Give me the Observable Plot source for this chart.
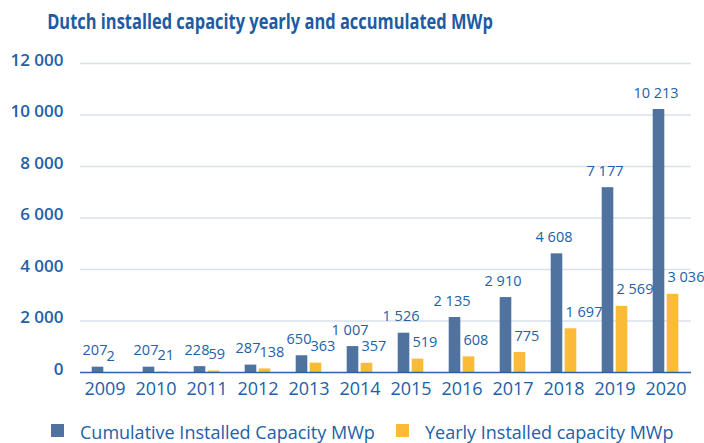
<!DOCTYPE html>
<html><head><meta charset="utf-8">
<script src="https://cdn.jsdelivr.net/npm/d3@7"></script>
<script src="https://cdn.jsdelivr.net/npm/@observablehq/plot@0.6"></script>
<style>
body{margin:0;background:#fff;width:704px;height:443px;overflow:hidden;position:relative;font-family:"Open Sans",sans-serif;color:#2260a8;}
#title{position:absolute;left:-30px;top:8px;width:600px;text-align:center;font-family:"Open Sans",sans-serif;font-weight:bold;font-size:21.5px;line-height:26px;color:#1d5ba3;white-space:nowrap;transform:scaleX(0.765);transform-origin:300px 0;}
#chart{position:absolute;left:0;top:44px;}
.leg{position:absolute;top:420px;font-size:18px;line-height:24px;white-space:nowrap;color:#2260a8;}
.sw{position:absolute;width:13px;height:13px;top:424px;}
</style></head><body>
<div id="title">Dutch installed capacity yearly and accumulated MWp</div>
<div id="chart"></div>
<div class="sw" style="left:51px;background:#50729e"></div>
<div class="leg" style="left:80px">Cumulative Installed Capacity MWp</div>
<div class="sw" style="left:396px;background:#fbbb37"></div>
<div class="leg" style="left:425px">Yearly Installed capacity MWp</div>
<script>
const years = ["2009","2010","2011","2012","2013","2014","2015","2016","2017","2018","2019","2020"];
const cumulative = [207, 207, 228, 287, 650, 1007, 1526, 2135, 2910, 4608, 7177, 10213];
const yearly = [2, 21, 59, 138, 363, 357, 519, 608, 775, 1697, 2569, 3036];
const yTicks = [0, 2000, 4000, 6000, 8000, 10000, 12000];

const fmt = v => d3.format(",")(v).replace(/,/g, " ");
const rows = years.map((y, i) => ({year: y, cum: cumulative[i], yr: yearly[i]}));
const blue = "#50729e", yellow = "#fbbb37", txt = "#2260a8";

const chart = Plot.plot({
  width: 704,
  height: 365,
  marginLeft: 76,
  marginRight: 10,
  marginTop: 19,
  marginBottom: 37,
  style: {fontFamily: "'Open Sans', sans-serif", color: txt, background: "transparent"},
  x: {domain: years, padding: 0, label: null},
  y: {domain: [0, 12000], label: null},
  marks: [
    Plot.ruleY(yTicks.filter(d => d > 0), {stroke: "#d8e1ec", strokeWidth: 1.5, insetLeft: 4, insetRight: 3}),
    Plot.barY(rows, {x: "year", y: "cum", fill: blue, insetLeft: 12.7, insetRight: 26.7}),
    Plot.barY(rows, {x: "year", y: "yr", fill: yellow, insetLeft: 26.7, insetRight: 12.7}),
    Plot.ruleY([0], {stroke: "#2e62a8", strokeWidth: 1.5, insetLeft: 4, insetRight: 3}),
    Plot.text(rows, {x: "year", y: "cum", text: d => fmt(d.cum), dx: -10, dy: -16.5, lineAnchor: "middle", textAnchor: "middle", fill: txt, fontSize: 14.5}),
    Plot.text(rows, {x: "year", y: "yr", text: d => fmt(d.yr), dx: 1.5, dy: -16.5, lineAnchor: "middle", textAnchor: "start", fill: txt, fontSize: 14.5}),
    Plot.axisY({ticks: yTicks, tickSize: 0, tickPadding: 13, tickFormat: fmt, fontSize: 17, fontWeight: 600, dy: -3, fill: txt}),
    Plot.axisX({tickSize: 0, tickPadding: 10, fontSize: 18, fontWeight: 500, fill: txt})
  ]
});
document.getElementById("chart").appendChild(chart);
</script>
</body></html>
